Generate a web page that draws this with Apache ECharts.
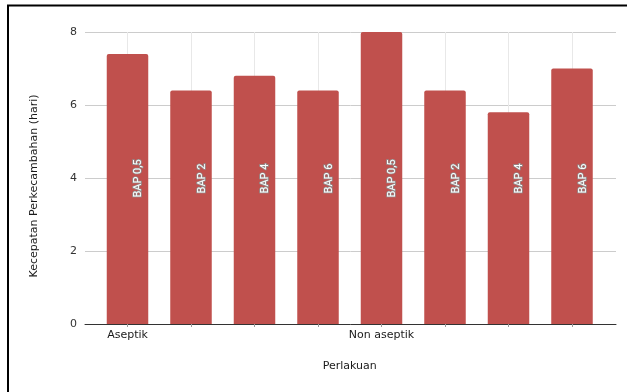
<!DOCTYPE html>
<html>
<head>
<meta charset="utf-8">
<script src="https://cdn.jsdelivr.net/npm/echarts@6/dist/echarts.min.js"></script>
<style>
  html, body { margin: 0; padding: 0; background: #fff; }
  #chart { width: 627px; height: 392px; }
</style>
</head>
<body>
<div id="chart"></div>
<script>
// Germination speed (days) per treatment group and BAP concentration
const groups = ['Aseptik', 'Non aseptik'];
const treatments = ['BAP 0,5', 'BAP 2', 'BAP 4', 'BAP 6'];
const aseptikValues = [7.4, 6.4, 6.8, 6.4];
const nonAseptikValues = [8.0, 6.4, 5.8, 7.0];
const yTicks = { min: 0, max: 8, interval: 2 };

// Flatten into one bar per (group, treatment); group name shown on the first bar only
const categories = [];
const innerLabels = [];
const values = [];
[aseptikValues, nonAseptikValues].forEach((vals, g) => {
  vals.forEach((v, i) => {
    categories.push(i === 0 ? groups[g] : '');
    innerLabels.push(treatments[i]);
    values.push(v);
  });
});

const FONT = 'DejaVu Sans';
const chart = echarts.init(document.getElementById('chart'));
chart.setOption({
  animation: false,
  backgroundColor: '#fff',
  grid: [
    { left: 85, right: 11, top: 32, bottom: 68 },
    { left: 95.75, right: 23.25, top: 32, bottom: 68 }
  ],
  xAxis: [
    {
      gridIndex: 0, type: 'value', min: 0, max: 1,
      axisLine: { show: true, lineStyle: { color: '#333', width: 1 } },
      axisTick: { show: false }, axisLabel: { show: false }, splitLine: { show: false }
    },
    {
      gridIndex: 1, type: 'category', data: categories,
      axisLine: { show: false },
      axisTick: { show: true, alignWithLabel: true, length: 3, lineStyle: { color: '#999' } },
      axisLabel: { interval: 0, margin: 6, color: '#1a1a1a', fontFamily: FONT, fontSize: 11, fontWeight: 500 },
      splitLine: { show: true, alignWithLabel: true, lineStyle: { color: '#e8e8e8' } },
      name: 'Perlakuan', nameLocation: 'middle', nameGap: 37,
      nameTextStyle: { color: '#1a1a1a', fontFamily: FONT, fontSize: 11 }
    }
  ],
  yAxis: [
    {
      gridIndex: 0, type: 'value', min: yTicks.min, max: yTicks.max, interval: yTicks.interval,
      axisLine: { show: false }, axisTick: { show: false },
      axisLabel: { color: '#333', fontFamily: FONT, fontSize: 11, margin: 8 },
      splitLine: { lineStyle: { color: '#ccc' } },
      name: 'Kecepatan Perkecambahan (hari)', nameLocation: 'middle', nameGap: 45,
      nameTextStyle: { color: '#1a1a1a', fontFamily: FONT, fontSize: 11, padding: [0, 16, 0, 0] }
    },
    {
      gridIndex: 1, type: 'value', min: yTicks.min, max: yTicks.max,
      show: false, splitLine: { show: false }
    }
  ],
  series: [{
    type: 'bar',
    xAxisIndex: 1, yAxisIndex: 1,
    data: values,
    barWidth: 41.5,
    itemStyle: { color: '#c0504d', borderRadius: [2, 2, 0, 0] },
    label: {
      show: true,
      position: ['50%', '100%'],
      // offset is in the rotated text frame: [along the text, across it]
      offset: [145.5, 11],
      rotate: 90,
      align: 'center',
      verticalAlign: 'middle',
      formatter: p => innerLabels[p.dataIndex],
      color: '#fff',
      fontFamily: 'Roboto',
      fontSize: 11,
      textBorderColor: '#909090',
      textBorderWidth: 1.5
    }
  }],
  graphic: [{
    type: 'polyline',
    shape: { points: [[8, 392], [8, 5.5], [627, 5.5]] },
    style: { stroke: '#000', lineWidth: 2, fill: null },
    z: 100
  }]
});
</script>
</body>
</html>
